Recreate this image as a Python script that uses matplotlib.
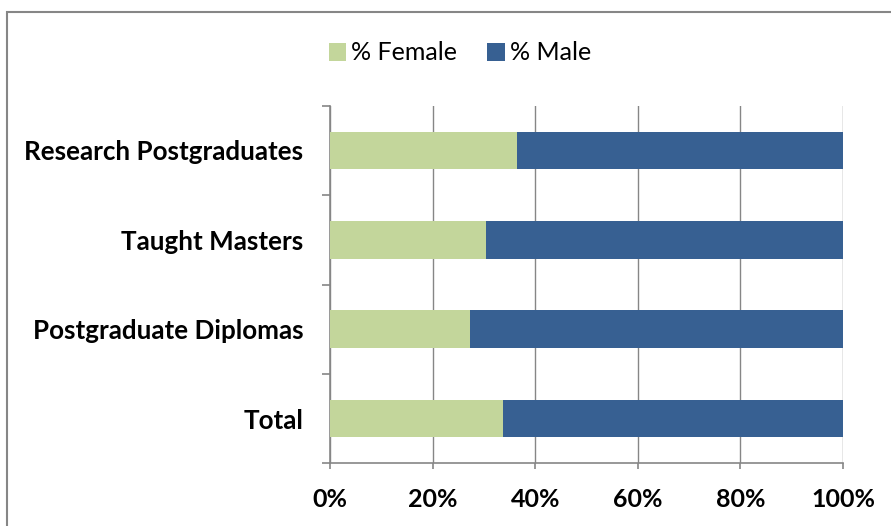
import matplotlib
matplotlib.use('Agg')
import matplotlib.pyplot as plt
from matplotlib.patches import Rectangle

# data (% of students)
categories = ['Total', 'Postgraduate Diplomas', 'Taught Masters', 'Research Postgraduates']
female = [33.7, 27.2, 30.5, 36.5]
male = [100 - f for f in female]
xticks = [0, 20, 40, 60, 80, 100]

green = '#C3D69B'
blue = '#376092'
grey = '#868686'

plt.rcParams['font.family'] = ['Lato', 'DejaVu Sans']

fig = plt.figure(figsize=(8.91, 5.26), dpi=100)
ax = fig.add_axes([330 / 891, 1 - 463.3 / 526, 513 / 891, (463.3 - 105.7) / 526])

# outer chart frame (runs off the right and bottom of the image)
fig.patches.append(Rectangle((7 / 891, -0.05), 1.0, 1 - 11.5 / 526 + 0.05,
                             transform=fig.transFigure, fill=False,
                             edgecolor=grey, linewidth=1.5))

y = list(range(len(categories)))
h1 = ax.barh(y, female, height=0.42, color=green, label='% Female', zorder=3)
h2 = ax.barh(y, male, left=female, height=0.42, color=blue, label='% Male', zorder=3)

ax.set_xlim(0, 100)
ax.set_ylim(-0.5, len(categories) - 0.5)
ax.set_xticks(xticks)
ax.set_xticklabels([f'{v}%' for v in xticks], fontsize=18, fontweight='bold')
ax.set_yticks(y)
ax.set_yticklabels(categories, fontsize=18.7, fontweight='bold')
ax.set_yticks([i - 0.5 for i in range(len(categories) + 1)], minor=True)

ax.grid(axis='x', color=grey, linewidth=1, zorder=0)
for s in ['top', 'right']:
    ax.spines[s].set_visible(False)
for s in ['left', 'bottom']:
    ax.spines[s].set_color(grey)
    ax.spines[s].set_linewidth(1.2)

ax.tick_params(axis='y', which='major', length=0, pad=19)
ax.tick_params(axis='y', which='minor', length=6, width=1.2, color=grey, direction='out')
ax.tick_params(axis='x', length=4, width=1.2, color=grey, direction='out', pad=14)

fig.legend(handles=[h1, h2], loc='center', bbox_to_anchor=(460 / 891, 1 - 53 / 526),
           ncol=2, frameon=False, fontsize=18, handlelength=0.7, handleheight=0.7,
           handletextpad=0.2, columnspacing=1.2)

fig.savefig('out.png', dpi=100)
